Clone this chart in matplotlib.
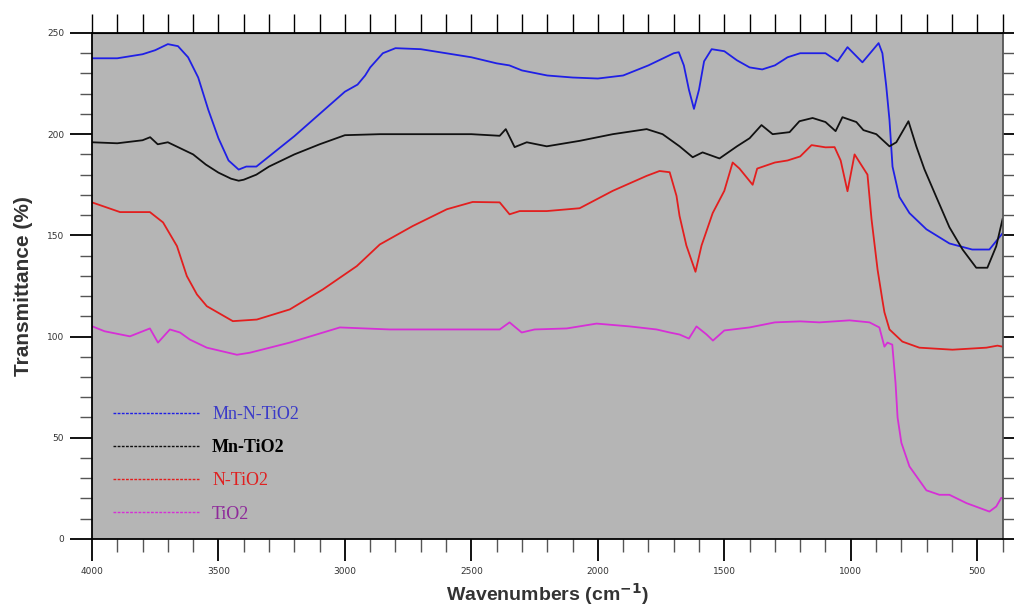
import matplotlib.pyplot as plt
from matplotlib.lines import Line2D
from matplotlib.ticker import MultipleLocator

# Mn-N-TiO2 (blue)
wn_mnn = [4000, 3900, 3800, 3750, 3700, 3660, 3620, 3580, 3540, 3500, 3460, 3420,
          3390, 3350, 3300, 3200, 3100, 3000, 2950, 2920, 2900, 2850, 2800, 2700,
          2600, 2500, 2400, 2350, 2300, 2200, 2100, 2000, 1900, 1800, 1700, 1680,
          1660, 1640, 1620, 1600, 1580, 1550, 1500, 1450, 1400, 1350, 1300, 1250,
          1200, 1100, 1052, 1013, 954, 890, 875, 860, 847, 835, 808, 768, 701, 610,
          520, 452, 413, 400]
t_mnn = [237.5, 237.5, 239.5, 241.5, 244.5, 243.5, 238, 228, 212, 198, 187, 182.5,
         184, 184, 189, 199, 210, 221, 224.5, 229, 233, 240, 242.5, 242,
         240, 238, 235, 234, 231.5, 229, 228, 227.5, 229, 234, 240, 240.5,
         234, 222, 212.5, 222, 236, 242, 241, 236.5, 233, 232, 234, 238,
         240, 240, 236, 243, 235.5, 245, 240, 224, 207, 184, 169, 161, 153, 146,
         143, 143, 149, 151]

# Mn-TiO2 (black)
wn_mn = [4000, 3900, 3800, 3770, 3740, 3700, 3650, 3600, 3550, 3500, 3450, 3420,
         3400, 3350, 3300, 3200, 3100, 3000, 2862, 2700, 2500, 2388, 2364, 2329,
         2281, 2202, 2072, 1941, 1807, 1744, 1677, 1625, 1586, 1519, 1450, 1400,
         1353, 1309, 1242, 1203, 1151, 1100, 1060, 1033, 978, 950, 899, 847, 820,
         772, 741, 709, 662, 610, 558, 504, 460, 425, 400]
t_mn = [196, 195.5, 197, 198.5, 195, 196, 193, 190, 185, 181, 178, 177,
        177.5, 180, 184, 190, 195, 199.5, 200, 200, 200, 199.2, 202.5, 193.6,
        196, 194, 196.7, 200, 202.5, 200, 194, 188.6, 191, 188, 194, 198,
        204.5, 200, 201, 206.4, 208, 206, 201.5, 208.4, 206, 202, 200, 194, 196,
        206.4, 194, 182.7, 169, 154, 143, 134, 134, 144.6, 158]

# N-TiO2 (red)
wn_n = [4000, 3889, 3771, 3719, 3664, 3625, 3585, 3546, 3443, 3348, 3218, 3087,
        2953, 2862, 2732, 2597, 2495, 2388, 2349, 2309, 2202, 2072, 1941, 1807,
        1756, 1716, 1689, 1677, 1650, 1614, 1590, 1546, 1500, 1467, 1440, 1388,
        1370, 1300, 1250, 1200, 1155, 1100, 1064, 1040, 1013, 985, 934, 918, 894,
        875, 867, 847, 796, 729, 598, 464, 420, 400]
t_n = [166.3, 161.5, 161.5, 156.4, 144.7, 129.9, 120.8, 115, 107.6, 108.4, 113.4, 123.3,
       134.8, 145.5, 154.6, 162.9, 166.5, 166.3, 160.4, 162, 162, 163.4, 172, 179.4,
       181.8, 181.2, 169.5, 159.6, 145, 132, 145, 161, 172, 186, 183, 175,
       183, 186, 187, 189, 194.6, 193.5, 193.6, 187, 171.8, 190, 180, 158, 133,
       118, 112, 103.5, 97.5, 94.5, 93.5, 94.5, 95.5, 95]

# TiO2 (magenta)
wn_t = [4000, 3950, 3850, 3771, 3739, 3692, 3652, 3613, 3546, 3427, 3376, 3218,
        3020, 2823, 2500, 2388, 2349, 2330, 2301, 2250, 2123, 2005, 1874, 1768,
        1716, 1677, 1640, 1610, 1570, 1545, 1500, 1400, 1300, 1200, 1124, 1005,
        926, 887, 867, 855, 836, 823, 815, 800, 768, 701, 650, 610, 543, 452,
        425, 405, 400]
t_t = [105.1, 102.6, 100.1, 104, 97, 103.5, 102, 98.5, 94.5, 91, 92, 97,
       104.5, 103.5, 103.5, 103.5, 107, 105, 102, 103.5, 104, 106.4, 105, 103.5,
       102, 101, 99, 105, 101, 98, 103, 104.5, 107, 107.5, 107, 108,
       107, 104.5, 95, 97, 96, 77, 60, 47.5, 35.8, 24, 21.8, 21.8, 17.7, 13.5,
       16, 20.3, 20]

series_labels = ['Mn-N-TiO2', 'Mn-TiO2', 'N-TiO2', 'TiO2']
line_colors = ['#1f1fe6', '#111111', '#e31e1e', '#d62fd6']
label_colors = ['#3b3bc8', '#000000', '#e02020', '#8e2a9a']

fig = plt.figure(figsize=(10.14, 6.11), dpi=100)
ax = fig.add_axes([0.0907, 0.118, 0.898, 0.828])
ax.set_facecolor('#b5b5b5')

for wn, tr, c in zip([wn_mnn, wn_mn, wn_n, wn_t], [t_mnn, t_mn, t_n, t_t], line_colors):
    ax.plot(wn, tr, color=c, lw=1.3)

ax.set_xlim(4000, 400)
ax.set_ylim(0, 250)

ax.xaxis.set_major_locator(MultipleLocator(500))
ax.xaxis.set_minor_locator(MultipleLocator(100))
ax.yaxis.set_major_locator(MultipleLocator(50))
ax.yaxis.set_minor_locator(MultipleLocator(10))

ax.tick_params(axis='both', which='major', direction='out', length=16, width=1.3,
               labelsize=6.5, labelcolor='#333333', pad=4)
ax.tick_params(axis='both', which='minor', direction='out', length=9, width=1.0,
               color='#555555')
ax.tick_params(axis='y', which='both', right=True)
ax.tick_params(axis='x', which='both', top=False)

top = ax.secondary_xaxis('top')
top.xaxis.set_major_locator(MultipleLocator(100))
top.tick_params(direction='out', length=14, width=1.0, labeltop=False)

for s in ax.spines.values():
    s.set_linewidth(1.3)
ax.spines['right'].set_color('#555555')

ax.set_xlabel('Wavenumbers (cm$^{\\mathbf{-1}}$)', fontsize=14, fontweight='bold',
              color='#333333', family='Liberation Sans', labelpad=4)
ax.set_ylabel('Transmittance (%)', fontsize=15, fontweight='bold',
              color='#333333', family='Liberation Sans', labelpad=10)

handles = [Line2D([], [], color=c, lw=1.0, ls=(0, (2, 1))) for c in line_colors]
leg = ax.legend(handles, series_labels, loc='upper left', bbox_to_anchor=(0.005, 0.295),
                frameon=False, handlelength=4.8, handletextpad=0.7, labelspacing=0.9,
                prop={'family': 'Liberation Serif', 'size': 13})
for txt, c in zip(leg.get_texts(), label_colors):
    txt.set_color(c)
leg.get_texts()[1].set_fontweight('bold')

fig.savefig('out.png', dpi=100)
